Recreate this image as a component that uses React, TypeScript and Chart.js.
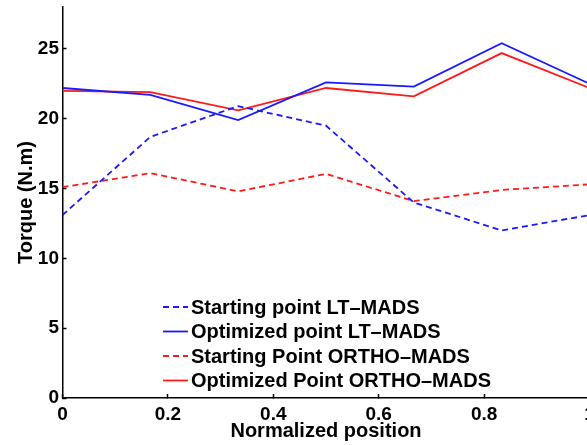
import React, { useEffect, useRef } from "react";
import { Chart, registerables } from "chart.js";

Chart.register(...registerables);

const positions = [0, 1 / 6, 2 / 6, 3 / 6, 4 / 6, 5 / 6, 1];
const startLT = [13.1, 18.7, 20.9, 19.5, 14.0, 12.0, 13.1];
const optLT = [22.2, 21.7, 19.9, 22.6, 22.3, 25.4, 22.5];
const startOrtho = [15.1, 16.1, 14.8, 16.05, 14.1, 14.9, 15.3];
const optOrtho = [22.0, 21.9, 20.6, 22.2, 21.6, 24.7, 22.2];
const xTicks = [0, 0.2, 0.4, 0.6, 0.8, 1];
const yTicks = [0, 5, 10, 15, 20, 25];
const seriesLabels = [
  "Starting point LT\u2013MADS",
  "Optimized point LT\u2013MADS",
  "Starting Point ORTHO\u2013MADS",
  "Optimized Point ORTHO\u2013MADS",
];

const BLUE = "rgb(25,25,255)";
const RED = "rgb(255,25,25)";
const FONT = "'Liberation Sans', Arial, Helvetica, sans-serif";

const legendPlugin = {
  id: "insideLegend",
  afterDatasetsDraw(chart: any) {
    const ctx = chart.ctx;
    const ds = chart.data.datasets;
    ctx.save();
    ctx.font = `bold 20px ${FONT}`;
    ctx.textBaseline = "middle";
    ctx.textAlign = "left";
    const x0 = 163;
    const lineLen = 25;
    const y0 = 307;
    const step = 24.5;
    ds.forEach((d: any, i: number) => {
      const y = y0 + i * step;
      ctx.beginPath();
      ctx.strokeStyle = d.borderColor;
      ctx.lineWidth = 1.8;
      ctx.setLineDash(d.borderDash || []);
      ctx.moveTo(x0, y);
      ctx.lineTo(x0 + lineLen, y);
      ctx.stroke();
      ctx.setLineDash([]);
      ctx.fillStyle = "#000";
      ctx.fillText(d.label, x0 + lineLen + 3, y + 1);
    });
    ctx.restore();
  },
};

export default function App() {
  const ref = useRef<HTMLCanvasElement | null>(null);
  useEffect(() => {
    if (!ref.current) return;
    const mk = (vals: number[]) => positions.map((x, i) => ({ x, y: vals[i] }));
    const chart = new Chart(ref.current, {
      type: "line",
      data: {
        datasets: [
          { label: seriesLabels[0], data: mk(startLT), borderColor: BLUE, borderDash: [6, 4], borderWidth: 1.8, pointRadius: 0, tension: 0, fill: false },
          { label: seriesLabels[1], data: mk(optLT), borderColor: BLUE, borderWidth: 1.8, pointRadius: 0, tension: 0, fill: false },
          { label: seriesLabels[2], data: mk(startOrtho), borderColor: RED, borderDash: [6, 4], borderWidth: 1.8, pointRadius: 0, tension: 0, fill: false },
          { label: seriesLabels[3], data: mk(optOrtho), borderColor: RED, borderWidth: 1.8, pointRadius: 0, tension: 0, fill: false },
        ],
      },
      options: {
        animation: false,
        responsive: false,
        devicePixelRatio: 1,
        layout: { padding: { left: 0, top: 7, right: 10.5, bottom: 0 } },
        plugins: { legend: { display: false }, tooltip: { enabled: false } },
        scales: {
          x: {
            type: "linear",
            min: 0,
            max: 1,
            afterFit: (s: any) => { s.height = 47; s.paddingLeft = 0; s.paddingRight = 0; },
            afterBuildTicks: (s: any) => { s.ticks = xTicks.map((v) => ({ value: v })); },
            grid: { drawOnChartArea: false, drawTicks: true, tickLength: -4, color: "#000", tickWidth: 1.5 },
            border: { display: true, color: "#000", width: 1.5 },
            ticks: { color: "#000", font: { family: FONT, size: 19, weight: "bold" }, padding: 9, maxRotation: 0, autoSkip: false, callback: (v: any) => String(v) },
            title: { display: true, text: "Normalized position", color: "#000", font: { family: FONT, size: 20, weight: "bold" }, padding: { top: 0, bottom: 2 } },
          },
          y: {
            type: "linear",
            min: 0,
            max: 28,
            afterFit: (s: any) => { s.width = 62.5; s.paddingTop = 0; s.paddingBottom = 0; },
            afterBuildTicks: (s: any) => { s.ticks = yTicks.map((v) => ({ value: v })); },
            grid: { drawOnChartArea: false, drawTicks: true, tickLength: -4, color: "#000", tickWidth: 1.5 },
            border: { display: true, color: "#000", width: 1.5 },
            ticks: { color: "#000", font: { family: FONT, size: 19, weight: "bold" }, padding: 7.5, autoSkip: false, callback: (v: any) => String(v) },
            title: { display: true, text: "Torque (N.m)", color: "#000", font: { family: FONT, size: 20, weight: "bold" }, padding: { top: 14, bottom: 0 } },
          },
        },
      },
      plugins: [legendPlugin],
    });
    return () => chart.destroy();
  }, []);
  return (
    <div style={{ position: "fixed", left: 0, top: 0, width: 587, height: 445, overflow: "hidden", background: "#fff" }}>
      <canvas ref={ref} width={600} height={445} style={{ display: "block", width: 600, height: 445 }} />
    </div>
  );
}
